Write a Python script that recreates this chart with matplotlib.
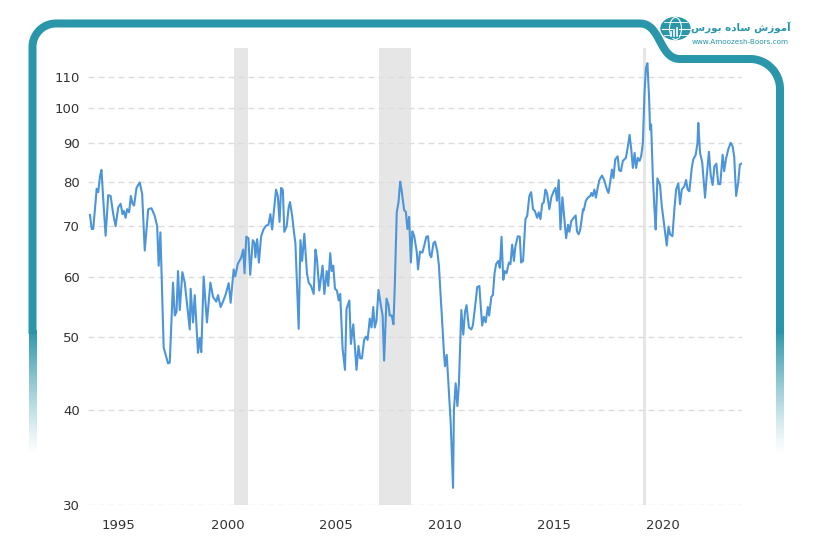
import matplotlib
matplotlib.use("Agg")
import matplotlib.pyplot as plt
import numpy as np
from matplotlib.patches import Ellipse
from matplotlib.ticker import NullLocator

# monthly-ish readings (x in axis years, y in index value)
years = [
    1993.67, 1993.75, 1993.82, 1993.98, 1994.05, 1994.13, 1994.20, 1994.28, 1994.39, 1994.51,
    1994.62, 1994.74, 1994.85, 1994.97, 1995.08, 1995.17, 1995.23, 1995.31, 1995.38, 1995.47,
    1995.55, 1995.63, 1995.70, 1995.81, 1995.96, 1996.07, 1996.19, 1996.35, 1996.50, 1996.65,
    1996.76, 1996.83, 1996.91, 1997.06, 1997.26, 1997.34, 1997.49, 1997.57, 1997.65, 1997.72,
    1997.80, 1997.92, 1998.03, 1998.26, 1998.30, 1998.41, 1998.49, 1998.64, 1998.72, 1998.79,
    1998.90, 1999.05, 1999.21, 1999.33, 1999.48, 1999.56, 1999.68, 1999.79, 1999.91, 2000.05,
    2000.14, 2000.28, 2000.35, 2000.47, 2000.63, 2000.72, 2000.78, 2000.86, 2000.96, 2001.04,
    2001.16, 2001.24, 2001.28, 2001.36, 2001.44, 2001.54, 2001.65, 2001.77, 2001.88, 2001.97,
    2002.05, 2002.13, 2002.23, 2002.31, 2002.39, 2002.46, 2002.54, 2002.61, 2002.72, 2002.81,
    2002.87, 2002.97, 2003.07, 2003.12, 2003.27, 2003.35, 2003.43, 2003.53, 2003.65, 2003.73,
    2003.84, 2003.96, 2004.04, 2004.11, 2004.22, 2004.37, 2004.45, 2004.56, 2004.63, 2004.72,
    2004.79, 2004.86, 2004.94, 2005.03, 2005.11, 2005.18, 2005.29, 2005.40, 2005.47, 2005.60,
    2005.67, 2005.78, 2005.93, 2006.02, 2006.10, 2006.18, 2006.28, 2006.36, 2006.44, 2006.54,
    2006.62, 2006.70, 2006.77, 2006.85, 2006.94, 2007.05, 2007.13, 2007.20, 2007.31, 2007.40,
    2007.46, 2007.55, 2007.63, 2007.69, 2007.78, 2007.86, 2007.94, 2008.00, 2008.12, 2008.20,
    2008.27, 2008.35, 2008.43, 2008.50, 2008.58, 2008.70, 2008.76, 2008.85, 2008.96, 2009.04,
    2009.14, 2009.22, 2009.30, 2009.37, 2009.47, 2009.54, 2009.65, 2009.72, 2009.80, 2009.88,
    2009.95, 2010.00, 2010.08, 2010.18, 2010.26, 2010.37, 2010.41, 2010.49, 2010.57, 2010.64,
    2010.75, 2010.84, 2010.92, 2010.99, 2011.10, 2011.21, 2011.28, 2011.41, 2011.48, 2011.58,
    2011.64, 2011.71, 2011.79, 2011.87, 2011.97, 2012.03, 2012.13, 2012.20, 2012.28, 2012.35,
    2012.45, 2012.52, 2012.60, 2012.68, 2012.75, 2012.83, 2012.94, 2013.01, 2013.09, 2013.17,
    2013.24, 2013.35, 2013.44, 2013.50, 2013.59, 2013.70, 2013.78, 2013.88, 2013.96, 2014.05,
    2014.13, 2014.24, 2014.31, 2014.39, 2014.47, 2014.54, 2014.62, 2014.69, 2014.80, 2014.89,
    2015.00, 2015.08, 2015.15, 2015.23, 2015.31, 2015.40, 2015.49, 2015.57, 2015.66, 2015.72,
    2015.81, 2015.92, 2016.01, 2016.07, 2016.15, 2016.22, 2016.35, 2016.38, 2016.48, 2016.57,
    2016.68, 2016.73, 2016.79, 2016.87, 2016.94, 2017.02, 2017.10, 2017.22, 2017.32, 2017.45,
    2017.52, 2017.60, 2017.68, 2017.75, 2017.83, 2017.94, 2018.01, 2018.09, 2018.18, 2018.32,
    2018.41, 2018.49, 2018.56, 2018.64, 2018.72, 2018.79, 2018.87, 2018.95, 2019.02, 2019.10,
    2019.17, 2019.24, 2019.31, 2019.39, 2019.43, 2019.48, 2019.56, 2019.63, 2019.69, 2019.77,
    2019.89, 2019.97, 2020.05, 2020.12, 2020.20, 2020.28, 2020.35, 2020.46, 2020.55, 2020.63,
    2020.73, 2020.81, 2020.89, 2021.01, 2021.09, 2021.16, 2021.24, 2021.35, 2021.42, 2021.53,
    2021.61, 2021.65, 2021.73, 2021.83, 2021.96, 2022.03, 2022.14, 2022.22, 2022.31, 2022.39,
    2022.48, 2022.57, 2022.66, 2022.77, 2022.84, 2022.92, 2023.03, 2023.14, 2023.23, 2023.30,
    2023.39, 2023.49, 2023.56, 2023.64,
]
values = [
    72.3, 69.3, 69.3, 78.3, 77.5, 81.3, 82.9, 75.9, 67.9, 76.8,
    76.6, 72.5, 69.9, 74.0, 74.8, 72.5, 73.2, 71.7, 73.6, 72.9,
    76.6, 74.8, 74.4, 78.5, 79.8, 77.1, 64.9, 73.6, 73.8, 72.1,
    69.9, 62.0, 68.6, 48.4, 46.1, 46.2, 58.9, 53.3, 53.9, 61.0,
    54.2, 60.8, 58.9, 51.1, 57.8, 52.2, 56.7, 47.6, 49.8, 47.7,
    60.0, 52.2, 58.9, 56.4, 55.6, 56.7, 54.7, 55.6, 56.8, 58.8,
    55.4, 61.3, 60.0, 62.3, 63.6, 65.1, 60.6, 67.7, 67.4, 60.3,
    67.0, 66.4, 63.6, 67.2, 62.6, 67.7, 69.2, 70.0, 70.2, 72.5,
    69.2, 73.2, 78.1, 76.6, 70.8, 78.5, 78.1, 68.7, 69.9, 74.0,
    75.2, 72.1, 68.0, 66.4, 51.2, 67.0, 62.9, 68.3, 60.6, 58.9,
    58.3, 56.9, 65.1, 63.3, 57.5, 62.0, 56.9, 61.0, 58.3, 64.4,
    61.0, 62.0, 57.8, 57.5, 55.8, 56.9, 48.2, 45.2, 54.4, 55.8,
    48.9, 51.9, 45.2, 48.6, 46.8, 46.8, 49.5, 50.0, 49.5, 52.8,
    51.4, 54.7, 51.4, 52.5, 57.6, 55.0, 53.3, 46.5, 56.1, 55.0,
    53.3, 53.3, 51.9, 58.3, 72.9, 75.1, 80.0, 78.1, 73.4, 73.0,
    69.3, 71.9, 62.6, 68.8, 67.9, 64.7, 61.3, 64.7, 64.5, 65.8,
    67.7, 67.8, 64.1, 63.6, 66.4, 66.7, 64.7, 62.0, 56.7, 51.7,
    47.7, 45.7, 47.3, 42.3, 38.6, 31.6, 40.0, 43.4, 40.5, 43.4,
    54.2, 50.3, 53.9, 55.0, 51.4, 51.1, 51.7, 55.6, 58.1, 58.3,
    55.0, 51.7, 53.1, 52.2, 54.7, 53.3, 56.4, 56.7, 60.6, 62.3,
    62.9, 61.6, 67.7, 59.4, 61.0, 60.6, 62.6, 62.3, 66.1, 62.9,
    65.8, 67.8, 67.7, 62.6, 62.9, 71.4, 72.1, 76.6, 77.5, 73.6,
    73.2, 71.7, 72.9, 71.4, 74.8, 75.1, 78.1, 77.3, 73.6, 76.3,
    77.7, 78.5, 75.5, 80.4, 69.2, 76.3, 71.4, 67.4, 70.2, 68.7,
    71.0, 71.7, 72.2, 68.8, 68.2, 69.2, 73.6, 73.3, 75.5, 76.2,
    76.6, 77.3, 76.6, 78.1, 76.2, 78.5, 80.4, 81.5, 80.4, 78.1,
    77.3, 80.0, 83.0, 80.9, 85.6, 86.4, 82.8, 82.6, 85.2, 86.0,
    89.0, 92.2, 88.6, 83.4, 87.3, 83.4, 86.0, 85.2, 86.4, 89.8,
    103.6, 112.9, 114.6, 102.6, 93.7, 95.2, 81.1, 74.0, 69.2, 80.8,
    79.2, 74.3, 71.3, 68.8, 65.9, 69.8, 68.2, 67.8, 73.6, 78.1,
    79.6, 74.7, 78.1, 78.9, 80.4, 78.1, 77.7, 83.4, 85.6, 86.8,
    89.8, 95.6, 87.3, 84.8, 76.2, 80.9, 87.6, 81.6, 79.2, 83.8,
    84.5, 79.4, 79.4, 86.8, 82.6, 85.6, 88.3, 90.0, 89.0, 86.4,
    76.6, 80.0, 84.3, 84.5,
]
recessions = [(2000.28, 2000.92), (2006.97, 2008.45), (2019.10, 2019.26)]
ytick_vals = [30, 40, 50, 60, 70, 80, 90, 100, 110]
xtick_years = [1995, 2000, 2005, 2010, 2015, 2020]

# logo text: "آموزش ساده بورس" in Arabic presentation forms, visual order
logo_text = "\uFEB1\uFEAD\uFEEE\uFE91 \uFEE9\uFEA9\uFE8E\uFEB3 \uFEB5\uFEAF\uFEEE\uFEE3\uFE81"
logo_url = "www.Amoozesh-Boors.com"

BLUE = "#4d95d9"
TEAL = "#2a96a9"
GREY_TXT = "#333333"

W, H = 815, 542
fig = plt.figure(figsize=(W / 100, H / 100), dpi=100)

# background layer in pixel coordinates for the frame + logo
bg = fig.add_axes([0, 0, 1, 1], zorder=0)
bg.axis("off")


def arc(cx, cy, r, a0, a1, n=40):
    t = np.radians(np.linspace(a0, a1, n))
    return np.column_stack([cx + r * np.cos(t), cy + r * np.sin(t)])


def bezier(p0, p1, p2, p3, n=40):
    t = np.linspace(0, 1, n)[:, None]
    p0, p1, p2, p3 = map(np.array, (p0, p1, p2, p3))
    return (1 - t) ** 3 * p0 + 3 * (1 - t) ** 2 * t * p1 + 3 * (1 - t) * t ** 2 * p2 + t ** 3 * p3


fade_top, fade_bot = 330, 455
lw_frame = 8 * 72 / 100
frame = np.vstack([
    [[32.5, fade_top + 4], [32.5, 47]],
    arc(56, 47, 23.5, 180, 270),
    [[640, 23.5]],
    bezier((640, 23.5), (661, 23.5), (659, 59), (680, 59)),
    [[750, 59]],
    arc(750, 89, 30, 270, 360),
    [[780, fade_top + 4]],
])
bg.plot(frame[:, 0], frame[:, 1], color=TEAL, lw=lw_frame,
        solid_joinstyle="round", solid_capstyle="butt")

# fading tails of the two vertical bars as a smooth gradient image
teal_rgb = matplotlib.colors.to_rgb(TEAL)
grad = np.zeros((200, 1, 4))
grad[:, 0, :3] = teal_rgb
grad[:, 0, 3] = np.linspace(1, 0, 200) ** 1.2
for xb in (32.5, 780):
    bg.imshow(grad, extent=(xb - 4, xb + 4, fade_bot, fade_top), origin="upper",
              aspect="auto", interpolation="bilinear", zorder=2)

# globe icon
bg.add_patch(Ellipse((675.5, 28.5), 29, 22, color=TEAL))
bg.add_patch(Ellipse((675.5, 28.5), 12, 22, fill=False, ec="white", lw=0.8))
bg.plot([661.5, 689.5], [28.5, 28.5], color="white", lw=0.8)
bg.plot([664, 687], [22, 22], color="white", lw=0.6)
bg.plot([664, 687], [35, 35], color="white", lw=0.6)
for bx, bh in [(671, 4), (674, 6), (677, 8)]:
    bg.plot([bx, bx], [36, 36 - bh], color=TEAL, lw=2.2)
    bg.plot([bx, bx], [36, 36 - bh], color="white", lw=1.2)

bg.text(741, 27, logo_text, ha="center", va="center", fontsize=7.4,
        fontweight="bold", color=TEAL, family="DejaVu Sans")
bg.text(740, 41.5, logo_url, ha="center", va="center", fontsize=5.2,
        color=TEAL, family="DejaVu Sans")

bg.set_xlim(0, W)
bg.set_ylim(H, 0)

# main chart
ax = fig.add_axes([88 / W, 37 / H, 654 / W, 457 / H], zorder=1)
ax.patch.set_alpha(0)

for a, b in recessions:
    ax.axvspan(a, b, color="#e6e6e6", lw=0, zorder=0.5)

ax.plot(years, values, color=BLUE, lw=1.5, zorder=3)

ax.set_yscale("log")
ax.set_ylim(30, 120)
ax.set_xlim(1993.58, 2023.66)
ax.set_yticks(ytick_vals)
ax.set_yticklabels([str(v) for v in ytick_vals])
ax.yaxis.set_minor_locator(NullLocator())
ax.set_xticks(xtick_years)
ax.set_xticklabels([str(y) for y in xtick_years])

ax.grid(axis="y", color="#dcdcdc", linestyle=(0, (4.3, 2.9)), lw=1)
ax.grid(axis="x", visible=False)
for s in ax.spines.values():
    s.set_visible(False)
ax.tick_params(length=0, labelsize=9.5, colors=GREY_TXT)
ax.tick_params(axis="y", pad=6)
ax.tick_params(axis="x", pad=10)

fig.savefig("out.png", dpi=100, facecolor="white")
